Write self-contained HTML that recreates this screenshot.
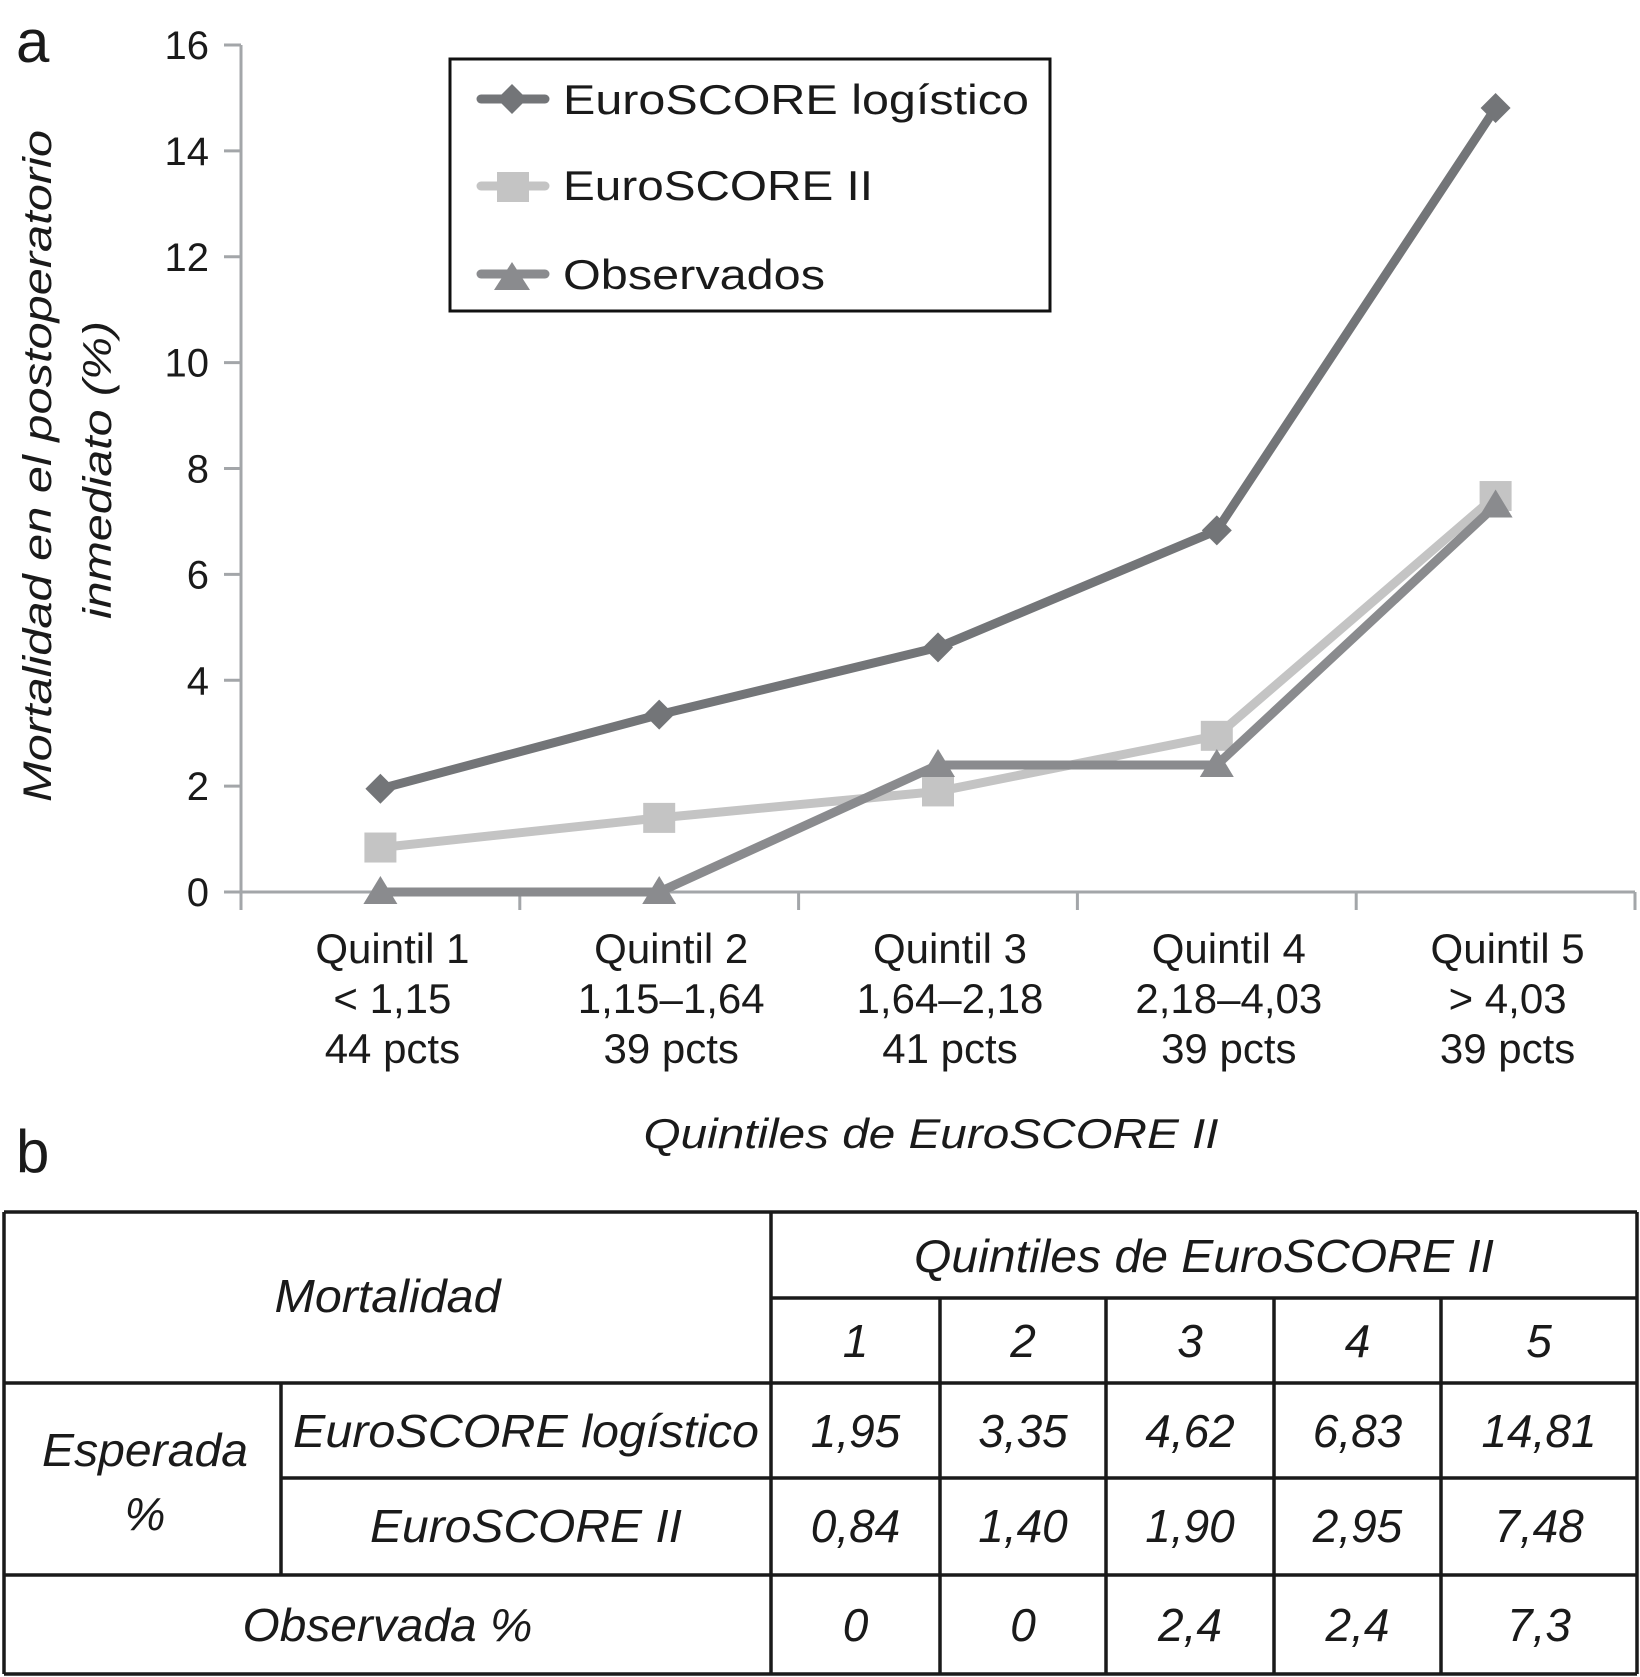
<!DOCTYPE html>
<html><head><meta charset="utf-8"><style>
html,body{margin:0;padding:0;background:#fff;}
svg{display:block;}
text{font-family:"Liberation Sans",sans-serif;fill:#1a1a1a;}
.tb{font-family:"Liberation Sans Narrow","Liberation Sans",sans-serif;font-style:italic;font-size:46px;}
</style></head><body>
<svg id="fig" width="1640" height="1677" viewBox="0 0 1640 1677">
<text x="16" y="62" font-size="60">a</text>
<text x="16" y="1172" font-size="60">b</text>
<g id="chart"></g>
<g id="legend">
<rect x="450" y="59" width="600" height="252" fill="#fff" stroke="#111" stroke-width="3"/>
<g>
<line x1="481" y1="99" x2="545" y2="99" stroke="#737578" stroke-width="9" stroke-linecap="round"/>
<path d="M512 84 L527 99 L512 114 L497 99Z" fill="#737578"/>
<text x="563" y="114" font-size="42" textLength="466" lengthAdjust="spacingAndGlyphs">EuroSCORE logístico</text></g>
<g>
<line x1="481" y1="186" x2="545" y2="186" stroke="#c4c4c4" stroke-width="9" stroke-linecap="round"/>
<rect x="497" y="172" width="32" height="30" fill="#c4c4c4"/>
<text x="563" y="200" font-size="42" textLength="310" lengthAdjust="spacingAndGlyphs">EuroSCORE II</text></g>
<g>
<line x1="481" y1="274" x2="545" y2="274" stroke="#8a8b8e" stroke-width="9" stroke-linecap="round"/>
<path d="M512 262 L530 290 L494 290Z" fill="#8a8b8e"/>
<text x="563" y="289" font-size="42" textLength="262" lengthAdjust="spacingAndGlyphs">Observados</text></g>
</g>
<g font-style="italic" font-size="40">
<text transform="translate(51,466) rotate(-90)" text-anchor="middle" textLength="672" lengthAdjust="spacingAndGlyphs">Mortalidad en el postoperatorio</text>
<text transform="translate(111,470) rotate(-90)" text-anchor="middle" textLength="298" lengthAdjust="spacingAndGlyphs">inmediato (%)</text>
</g>
<text x="931" y="1148" text-anchor="middle" font-size="42" font-style="italic" textLength="575" lengthAdjust="spacingAndGlyphs">Quintiles de EuroSCORE II</text>
<g id="table"></g>
</svg>
<script>
const categories=["Quintil 1","Quintil 2","Quintil 3","Quintil 4","Quintil 5"];
const ranges=["< 1,15","1,15–1,64","1,64–2,18","2,18–4,03","> 4,03"];
const patients=["44 pcts","39 pcts","41 pcts","39 pcts","39 pcts"];
const logistico=[1.95,3.35,4.62,6.83,14.81];
const euroII=[0.84,1.40,1.90,2.95,7.48];
const observados=[0,0,2.4,2.4,7.3];
const yTicks=[0,2,4,6,8,10,12,14,16];
const tableLog=["1,95","3,35","4,62","6,83","14,81"];
const tableII=["0,84","1,40","1,90","2,95","7,48"];
const tableObs=["0","0","2,4","2,4","7,3"];

const NS="http://www.w3.org/2000/svg";
const X0=241,X1=1635,Y0=892,Y16=45;
function yScale(v){return Y0-(Y0-Y16)*v/16;}
function xBand(i){const w=(X1-X0)/categories.length;return X0+w*(i+0.5);}
function mk(tag,attrs,parent){const e=document.createElementNS(NS,tag);for(const k in attrs)e.setAttribute(k,attrs[k]);parent.appendChild(e);return e;}
const chart=document.getElementById('chart');
let ax=mk('line',{x1:X0,y1:Y16,x2:X0,y2:Y0,stroke:'#a3a6a9','stroke-width':3},chart);


let bx=mk('line',{x1:X0-15,y1:Y0,x2:X1,y2:Y0,stroke:'#a3a6a9','stroke-width':3},chart);


yTicks.forEach(t=>{
  const y=yScale(t);
  const l=mk('line',{x1:X0-17,y1:y,x2:X0,y2:y,stroke:'#a3a6a9','stroke-width':3},chart);
  
  
  const tx=mk('text',{x:209,y:y+14,'text-anchor':'end','font-size':40},chart);
  tx.textContent=t;
  
  
});
for(let i=0;i<=categories.length;i++){
  const x=X0+(X1-X0)/categories.length*i;
  const l=mk('line',{x1:x,y1:Y0,x2:x,y2:Y0+18,stroke:'#a3a6a9','stroke-width':3},chart);
  
  
}
categories.forEach((c,i)=>{
  const x=xBand(i)+12;
  [c,ranges[i],patients[i]].forEach((s,j)=>{
    const t=mk('text',{x:x,y:963+j*50,'text-anchor':'middle','font-size':42},chart);
    t.textContent=s;
    
    
  });
});
function series(vals,color,shape,name){
  const g=mk('g',{},chart);
  
  
  const pts=vals.map((v,i)=>xBand(i)+','+yScale(v)).join(' ');
  const pl=mk('polyline',{points:pts,fill:'none',stroke:color,'stroke-width':9,'stroke-linejoin':'round'},g);
  
  
  vals.forEach((v,i)=>{
    const x=xBand(i),y=yScale(v);let m;
    if(shape==='d')m=mk('path',{d:`M${x} ${y-15}L${x+15} ${y}L${x} ${y+15}L${x-15} ${y}Z`,fill:color},g);
    else if(shape==='s')m=mk('rect',{x:x-16,y:y-15,width:32,height:30,fill:color},g);
    else m=mk('path',{d:`M${x} ${y-16}L${x+17} ${y+12}L${x-17} ${y+12}Z`,fill:color},g);
    
    
  });
}
series(euroII,'#c4c4c4','s','series-euroscore-ii');
series(observados,'#8a8b8e','t','series-observados');
series(logistico,'#737578','d','series-logistico');

const tb=document.getElementById('table');
const cols=[4,281,771,940,1106,1274,1441,1637];
const rows=[1212,1298,1383,1478,1575,1674];
function ln(x1,y1,x2,y2){const l=mk('line',{x1,y1,x2,y2,stroke:'#1a1a1a','stroke-width':3.5},tb);

}
ln(cols[0],rows[0],cols[7],rows[0]);
ln(cols[0],rows[5],cols[7],rows[5]);
ln(cols[0],rows[0],cols[0],rows[5]);
ln(cols[7],rows[0],cols[7],rows[5]);
ln(cols[2],rows[1],cols[7],rows[1]);
ln(cols[0],rows[2],cols[7],rows[2]);
ln(cols[1],rows[3],cols[7],rows[3]);
ln(cols[0],rows[4],cols[7],rows[4]);
ln(cols[1],rows[2],cols[1],rows[4]);
ln(cols[2],rows[0],cols[2],rows[5]);
for(let i=3;i<7;i++)ln(cols[i],rows[1],cols[i],rows[5]);
function tt(s,x,y,name,len){const t=mk('text',{x,y,'text-anchor':'middle','class':'tb'},tb);
if(len){t.setAttribute('textLength',len);t.setAttribute('lengthAdjust','spacingAndGlyphs');}
t.textContent=s;

}
tt('Mortalidad',(cols[0]+cols[2])/2,1312,'table-header-mortalidad',226);
tt('Quintiles de EuroSCORE II',(cols[2]+cols[7])/2,1272,'table-header-quintiles',580);
tt('Esperada',145,1466,'table-label-esperada',206);
tt('%',145,1530,'table-label-esperada-pct');
tt('EuroSCORE logístico',(cols[1]+cols[2])/2,1447,'table-label-logistico',466);
tt('EuroSCORE II',(cols[1]+cols[2])/2,1542,'table-label-euroscore-ii',312);
tt('Observada %',(cols[0]+cols[2])/2,1641,'table-label-observada',290);
for(let i=0;i<5;i++){
  const cx=(cols[i+2]+cols[i+3])/2;
  tt(String(i+1),cx,1357,'table-quintile-number');
  tt(tableLog[i],cx,1447,'table-cell-logistico');
  tt(tableII[i],cx,1542,'table-cell-euroscore-ii');
  tt(tableObs[i],cx,1641,'table-cell-observada');
}
</script>
</body></html>
